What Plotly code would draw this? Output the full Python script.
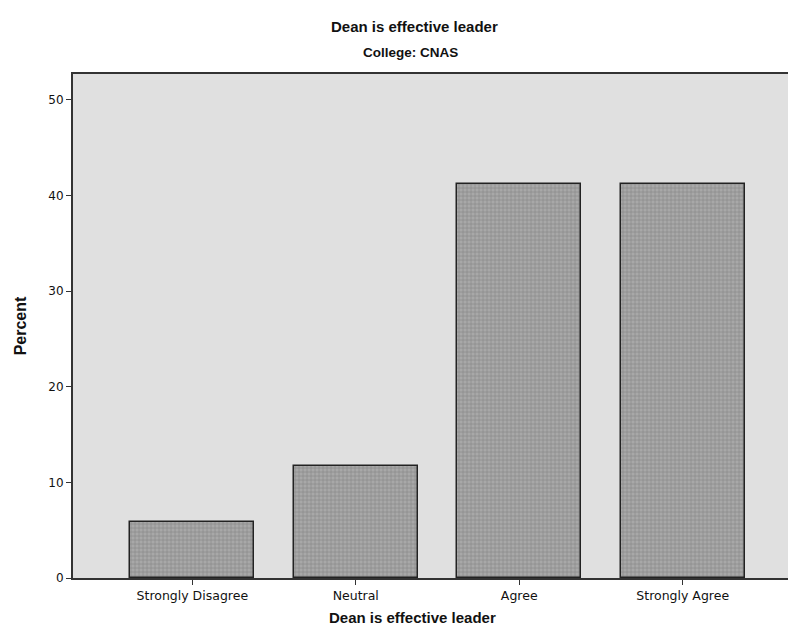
import plotly.graph_objects as go

categories = ['Strongly Disagree', 'Neutral', 'Agree', 'Strongly Agree']
percent = [5.88, 11.76, 41.18, 41.18]
y_ticks = [0, 10, 20, 30, 40, 50]

# plot box in pixels
W, H = 796, 638
L, R, T, B = 65, 0, 66, 68
ph = H - T - B
pw = W - L - R


def py(px_from_top):
    # paper y for a pixel row
    return 1 + (T - px_from_top) / ph


def px(px_from_left):
    return (px_from_left - L) / pw


fig = go.Figure()
fig.add_trace(
    go.Bar(
        x=categories,
        y=percent,
        width=0.76,
        marker=dict(
            color='#a0a0a0',
            line=dict(color='#222222', width=1.5),
            pattern=dict(shape='+', fgcolor='#6e6e6e', bgcolor='#a8a8a8', size=4, solidity=0.35)
        ),
        showlegend=False
    )
)

fig.update_layout(
    width=W,
    height=H,
    paper_bgcolor='white',
    plot_bgcolor='#e0e0e0',
    font=dict(family='Arial', color='#111111'),
    margin=dict(l=L, r=R, t=T, b=B, pad=0),
    bargap=0,
    annotations=[
        dict(text='<b>Dean is effective leader</b>', x=px(407), y=py(19), xref='paper', yref='paper',
             showarrow=False, yanchor='middle', font=dict(size=15)),
        dict(text='<b>College: CNAS</b>', x=px(403), y=py(45), xref='paper', yref='paper',
             showarrow=False, yanchor='middle', font=dict(size=13.5)),
        dict(text='<b>Dean is effective leader</b>', x=px(405), y=py(609), xref='paper', yref='paper',
             showarrow=False, yanchor='middle', font=dict(size=15)),
    ],
)

fig.update_xaxes(
    range=[-0.73, 3.73],
    showline=True,
    linecolor='#333333',
    linewidth=2,
    mirror=True,
    ticks='outside',
    ticklen=5,
    tickcolor='#333333',
    tickfont=dict(family='DejaVu Sans', size=12.5),
    showgrid=False,
)
fig.update_yaxes(
    range=[0, 52.7],
    tickvals=y_ticks,
    showline=True,
    linecolor='#333333',
    linewidth=2,
    mirror=True,
    ticks='outside',
    ticklen=5,
    tickcolor='#333333',
    tickfont=dict(family='DejaVu Sans', size=12),
    showgrid=False,
    zeroline=False,
    title=dict(text='<b>Percent</b>', font=dict(size=16), standoff=18),
)

fig.write_html('out.html')
